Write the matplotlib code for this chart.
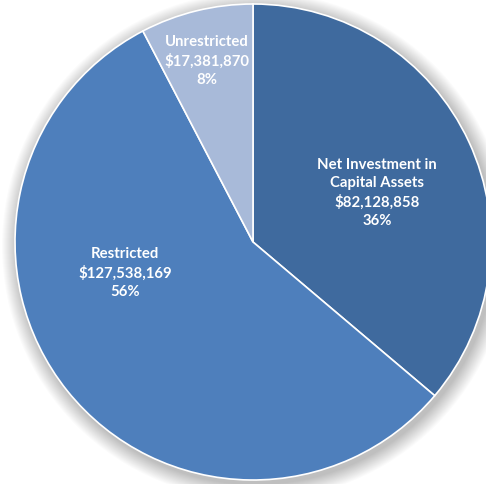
import matplotlib.pyplot as plt
from matplotlib.patches import Circle

# net position components
categories = ['Net Investment in\nCapital Assets', 'Restricted', 'Unrestricted']
amounts = [82128858, 127538169, 17381870]
colors = ['#3F6A9E', '#4E7FBC', '#A8BAD9']

total = sum(amounts)

fig = plt.figure(figsize=(4.86, 4.85), dpi=100)
ax = fig.add_axes([0, 0, 1, 1])

cx, cy, r = 253, 242, 238

# soft shadow around the pie
for k in range(16, 0, -1):
    ax.add_patch(Circle((cx + 3, cy - 4), r + k, color='#000000',
                        alpha=0.016, lw=0, zorder=0))

wedges, _ = ax.pie(amounts, colors=colors, startangle=90, counterclock=False,
                   center=(cx, cy), radius=r,
                   wedgeprops=dict(edgecolor='white', linewidth=1.2))
for w in wedges:
    w.set_zorder(2)

# pie() resets the limits, so set pixel-like limits afterwards
ax.set_xlim(0, 486)
ax.set_ylim(0, 485)
ax.set_aspect('equal')
ax.axis('off')

# label positions for each slice
label_pos = [(377, 485 - 193), (125, 485 - 273), (207, 485 - 61)]

for name, amt, (x, y) in zip(categories, amounts, label_pos):
    pct = round(amt / total * 100)
    txt = '%s\n$%s\n%d%%' % (name, format(amt, ','), pct)
    ax.text(x, y, txt, ha='center', va='center', color='white',
            fontsize=10.7, fontweight='bold', family='Lato',
            linespacing=1.35, zorder=3)

plt.savefig('out.png', dpi=100)
